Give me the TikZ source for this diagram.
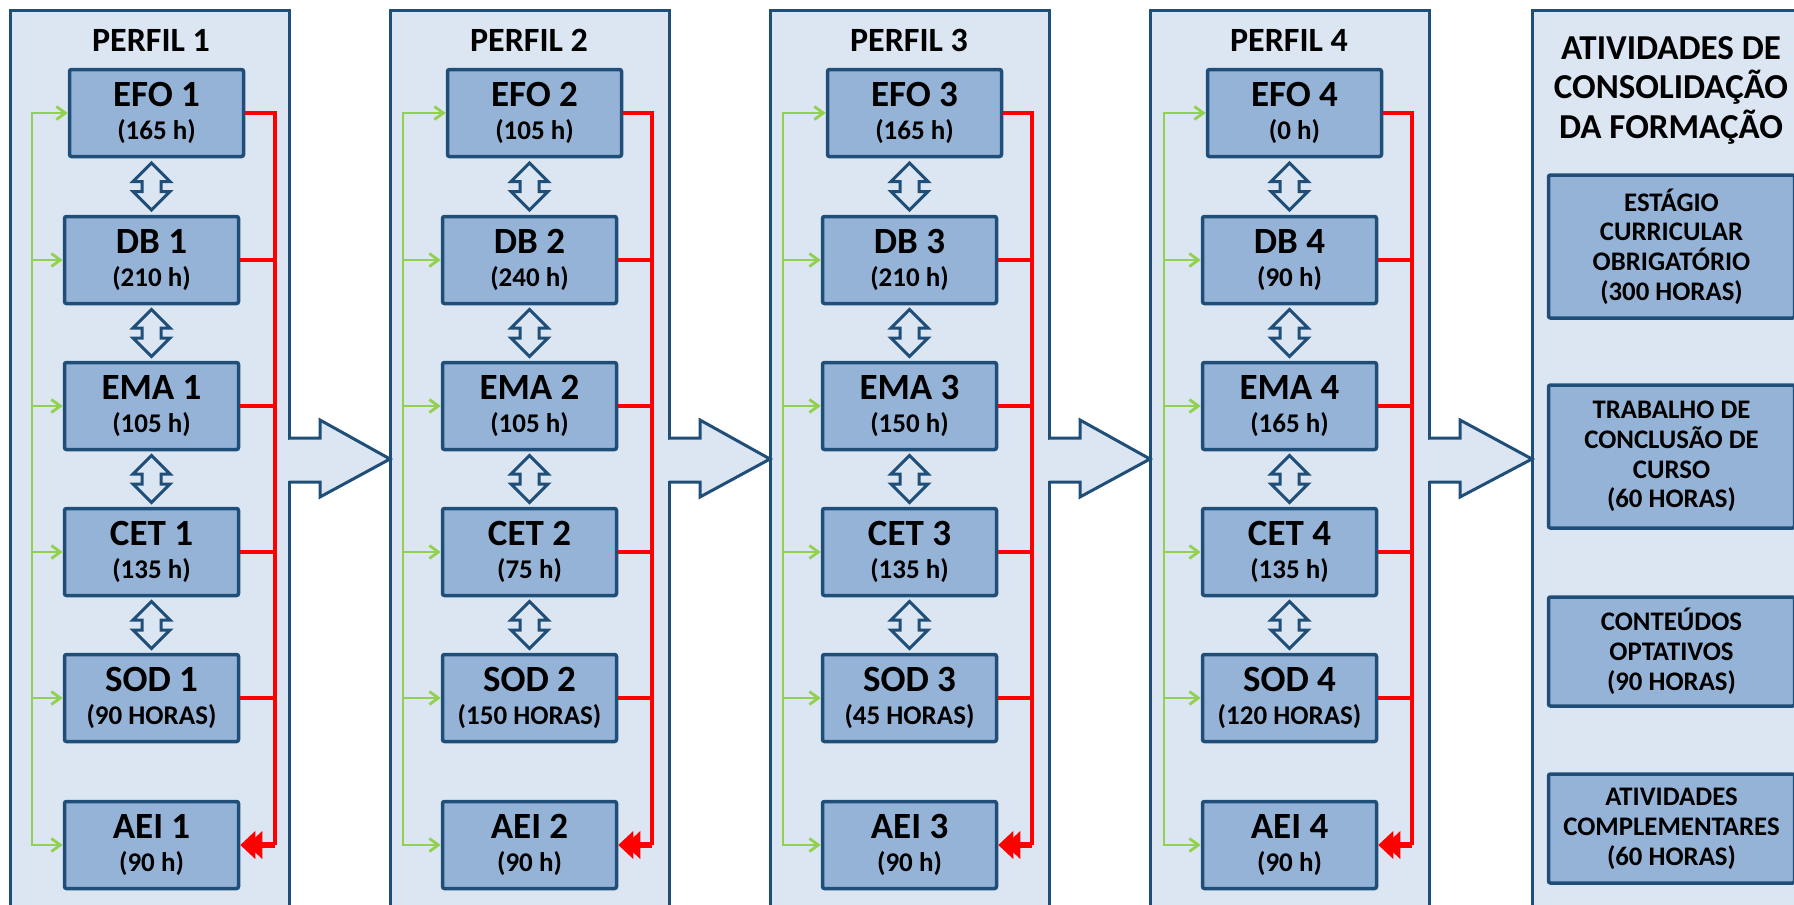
\documentclass[tikz,border=0pt]{standalone}
\usepackage{fontspec}
\setmainfont{Carlito}
\usetikzlibrary{arrows.meta,calc}
\definecolor{panelfill}{HTML}{DCE6F2}
\definecolor{navy}{HTML}{1F4E79}
\definecolor{boxfill}{HTML}{95B3D7}
\definecolor{grn}{HTML}{92D050}
\definecolor{rd}{HTML}{FF0000}
\tikzset{
  panel/.style={draw=navy, fill=panelfill, line width=1.5pt},
  stagebox/.style={draw=navy, fill=boxfill, line width=1.75pt, rounded corners=1pt,
     minimum width=87pt, minimum height=43.5pt, inner sep=0pt, align=center,
     font=\bfseries\fontsize{13.5}{16.5}\selectfont},
  actbox/.style={stagebox, minimum width=123pt, font=\bfseries\fontsize{13.4}{14.9}\selectfont},
  paneltitle/.style={font=\bfseries\fontsize{17}{18}\selectfont, inner sep=0pt},
  bigtitle/.style={font=\bfseries\fontsize{17.5}{19.75}\selectfont, align=center, inner sep=0pt},
  gline/.style={draw=grn, line width=1.4pt},
  garrow/.style={gline, -{Straight Barb[length=4.5pt,width=6.5pt]}},
  rline/.style={draw=rd, line width=1.8pt},
  rarrow/.style={draw=rd, line width=2.6pt, -{Triangle[length=7.5pt,width=13.5pt,sep=-4pt]Triangle[length=7.5pt,width=13.5pt]}},
  bigarrow/.style={draw=navy, fill=panelfill, line width=1.5pt, line join=miter},
  updown/.pic={\draw[navy, fill=panelfill, line width=1.5pt, line join=miter]
     (0,-23.5) -- (18.5,-5) -- (9.5,-5) -- (9.5,5) -- (18.5,5) -- (0,23.5)
     -- (-18.5,5) -- (-9.5,5) -- (-9.5,-5) -- (-18.5,-5) -- cycle;},
}
\newcommand{\stg}[5]{\node[stagebox] (#1) at (#2,#3) {{\fontsize{18.5}{18.5}\selectfont #4}\\#5};}
\begin{document}
\begin{tikzpicture}[x=0.5pt,y=-0.5pt]
\useasboundingbox (0,0) rectangle (1794,905);
\clip (0,0) rectangle (1794,905);
% panels
\foreach \xo in {10,390,770,1150,1532}
  \draw[panel] (\xo,10) rectangle (\xo+279,920);
% big arrows between panels
\foreach \xr/\xn in {289/390, 669/770, 1049/1150, 1429/1532} {
  \fill[panelfill] (\xr-3,439.5) rectangle (\xr+2,480.5);
  \draw[bigarrow] (\xr,438) -- (\xr+31,438) -- (\xr+31,420) -- (\xn,459)
     -- (\xr+31,497) -- (\xr+31,482) -- (\xr,482);
}
% titles
\node[paneltitle, anchor=base] (t1) at (151,51) {PERFIL 1};
\node[paneltitle, anchor=base] (t2) at (529,51) {PERFIL 2};
\node[paneltitle, anchor=base] (t3) at (909,51) {PERFIL 3};
\node[paneltitle, anchor=base] (t4) at (1289,51) {PERFIL 4};
\node[bigtitle] (t5) at (1671,90) {ATIVIDADES DE\\CONSOLIDAÇÃO\\DA FORMAÇÃO};
% panel 1
\stg{b11}{156.5}{113}{EFO 1}{(165 h)}
\stg{b12}{151.5}{260}{DB 1}{(210 h)}
\stg{b13}{151.5}{406}{EMA 1}{(105 h)}
\stg{b14}{151.5}{552}{CET 1}{(135 h)}
\stg{b15}{151.5}{698}{SOD 1}{(90 HORAS)}
\stg{b16}{151.5}{845}{AEI 1}{(90 h)}
% panel 2
\stg{b21}{534.5}{113}{EFO 2}{(105 h)}
\stg{b22}{529.5}{260}{DB 2}{(240 h)}
\stg{b23}{529.5}{406}{EMA 2}{(105 h)}
\stg{b24}{529.5}{552}{CET 2}{(75 h)}
\stg{b25}{529.5}{698}{SOD 2}{(150 HORAS)}
\stg{b26}{529.5}{845}{AEI 2}{(90 h)}
% panel 3
\stg{b31}{914.5}{113}{EFO 3}{(165 h)}
\stg{b32}{909.5}{260}{DB 3}{(210 h)}
\stg{b33}{909.5}{406}{EMA 3}{(150 h)}
\stg{b34}{909.5}{552}{CET 3}{(135 h)}
\stg{b35}{909.5}{698}{SOD 3}{(45 HORAS)}
\stg{b36}{909.5}{845}{AEI 3}{(90 h)}
% panel 4
\stg{b41}{1294.5}{113}{EFO 4}{(0 h)}
\stg{b42}{1289.5}{260}{DB 4}{(90 h)}
\stg{b43}{1289.5}{406}{EMA 4}{(165 h)}
\stg{b44}{1289.5}{552}{CET 4}{(135 h)}
\stg{b45}{1289.5}{698}{SOD 4}{(120 HORAS)}
\stg{b46}{1289.5}{845}{AEI 4}{(90 h)}
% panel 5 boxes
\node[actbox, minimum height=71.5pt] (c1) at (1671.5,246.5) {ESTÁGIO\\CURRICULAR\\OBRIGATÓRIO\\(300 HORAS)};
\node[actbox, minimum height=71.5pt] (c2) at (1671.5,456.5) {TRABALHO DE\\CONCLUSÃO DE\\CURSO\\(60 HORAS)};
\node[actbox, minimum height=54.5pt] (c3) at (1671.5,651.5) {CONTEÚDOS\\OPTATIVOS\\(90 HORAS)};
\node[actbox, minimum height=54.5pt] (c4) at (1671.5,828.5) {ATIVIDADES\\COMPLEMENTARES\\(60 HORAS)};
% connectors in each panel
\foreach \p/\gx/\rx in {1/32/275, 2/403/652, 3/783/1032, 4/1164/1412} {
  \coordinate (g\p) at (\gx,0);
  \coordinate (r\p) at (\rx,0);
  \draw[garrow] (b\p6.west -| g\p) |- (b\p1.west);
  \draw[garrow] (b\p1.west -| g\p) |- (b\p6.west);
  \foreach \k in {2,...,5} {
    \draw[garrow] (b\p\k.west -| g\p) -- (b\p\k.west);
    \draw[rline] (b\p\k.east) -- (b\p\k.east -| r\p);
  }
  \draw[rline] (b\p1.east) -| (b\p6.east -| r\p);
  \draw[rarrow] (b\p6.east -| r\p) -- (b\p6.east);
  \foreach \k/\kk in {1/2,2/3,3/4,4/5} {
    \coordinate (m) at ($(b\p\k.south)!0.5!(b\p\kk.north)$);
    \pic at (m -| b\p2) {updown};
  }
}
\end{tikzpicture}
\end{document}
